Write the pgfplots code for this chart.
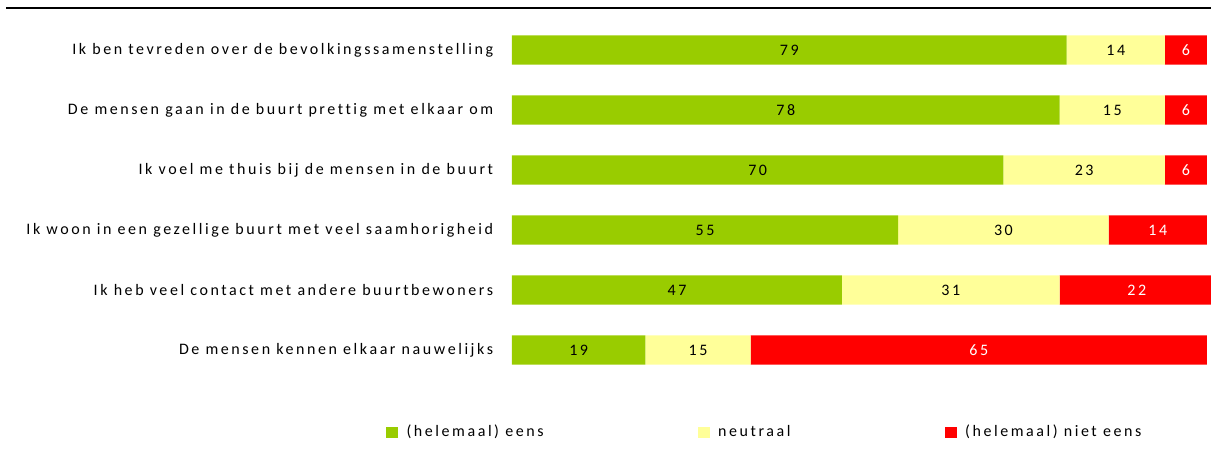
\documentclass[border=0pt]{standalone}
\usepackage{fontspec}
\setmainfont[LetterSpace=16,Ligatures={NoCommon}]{Carlito}
\usepackage{pgfplots}
\pgfplotsset{compat=1.18}
\definecolor{cgreen}{HTML}{99CC00}
\definecolor{cyellow}{HTML}{FFFF99}
\definecolor{cred}{HTML}{FF0000}
\begin{document}
\begin{tikzpicture}
\useasboundingbox (0,0) rectangle (908.25pt,-345.75pt);
\draw[line width=2.2pt] (4.5pt,-6pt) -- (908.25pt,-6pt);
\pgfplotsset{myaxis/.style={
  at={(384pt,-6pt)}, anchor=north west,
  scale only axis, width=526.5pt, height=294pt,
  xmin=0, xmax=100, ymin=-0.7, ymax=5.833, y dir=reverse,
  axis line style={draw=none},
  xtick=\empty, major tick length=0pt,
  ytick={0,1,2,3,4,5},
  font=\fontsize{12pt}{14pt}\selectfont,
}}
\begin{axis}[myaxis,
  xbar stacked, bar width=22pt,
  yticklabels={Ik ben tevreden over de bevolkingssamenstelling,
    De mensen gaan in de buurt prettig met elkaar om,
    Ik voel me thuis bij de mensen in de buurt,
    Ik woon in een gezellige buurt met veel saamhorigheid,
    Ik heb veel contact met andere buurtbewoners,
    De mensen kennen elkaar nauwelijks},
  yticklabel style={inner sep=0pt, xshift=-14pt},
  legend columns=3,
  legend style={at={(-0.180,-0.0816)}, anchor=west, draw=none, fill=none,
    inner sep=0pt, font=\fontsize{12pt}{14pt}\selectfont,
    /tikz/every odd column/.append style={column sep=4.5pt},
    /tikz/every even column/.append style={column sep=113.5pt}},
  legend image code/.code={\fill[#1] (0pt,-4.5pt) rectangle (9pt,4pt);},
]
\addplot[fill=cgreen, draw=none] coordinates {(79,0) (78,1) (70,2) (55,3) (47,4) (19,5)};
\addplot[fill=cyellow, draw=none] coordinates {(14,0) (15,1) (23,2) (30,3) (31,4) (15,5)};
\addplot[fill=cred, draw=none] coordinates {(6,0) (6,1) (6,2) (14,3) (22,4) (65,5)};
\legend{(helemaal) eens, neutraal, (helemaal) niet eens}
\end{axis}
\begin{axis}[myaxis, yticklabels={}, 
  nodes near coords, point meta=explicit symbolic,
  nodes near coords align=center,
  every node near coord/.append style={font=\fontsize{12pt}{14pt}\selectfont, inner sep=0pt}]
\addplot[only marks, mark=none, text=black] coordinates {
 (39.5,0)[79] (39,1)[78] (35,2)[70] (27.5,3)[55] (23.5,4)[47] (9.5,5)[19]
 (86,0)[14] (85.5,1)[15] (81.5,2)[23] (70,3)[30] (62.5,4)[31] (26.5,5)[15]};
\addplot[only marks, mark=none, text=white] coordinates {
 (96,0)[6] (96,1)[6] (96,2)[6] (92,3)[14] (89,4)[22] (66.5,5)[65]};
\end{axis}
\end{tikzpicture}
\end{document}
